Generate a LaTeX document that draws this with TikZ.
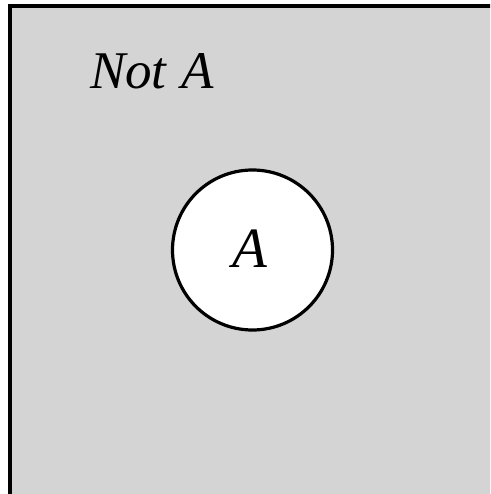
\documentclass[tikz,border=0pt]{standalone}
\usepackage{fontspec}
\setmainfont{Liberation Serif}
\definecolor{bggray}{HTML}{D4D4D4}
\tikzset{
  lbl/.style={inner sep=0pt, outer sep=0pt, font=\itshape},
}
\begin{document}
\begin{tikzpicture}[x=1pt,y=-1pt]
\useasboundingbox (0,0) rectangle (490,494);
\clip (0,0) rectangle (490,494);
\draw[line width=4pt, fill=bggray] (10,6) rectangle (520,520);
\node[draw, circle, line width=3.2pt, fill=white, minimum size=160pt, inner sep=0pt] (a) at (252.5,250) {};
\node[lbl, anchor=base, font=\itshape\fontsize{57}{60}\selectfont] (atext) at (250,267) {A};
\node[lbl, anchor=base west, font=\itshape\fontsize{53}{56}\selectfont] (nota) at (90,89) {Not\hspace{2pt} A};
\end{tikzpicture}
\end{document}
